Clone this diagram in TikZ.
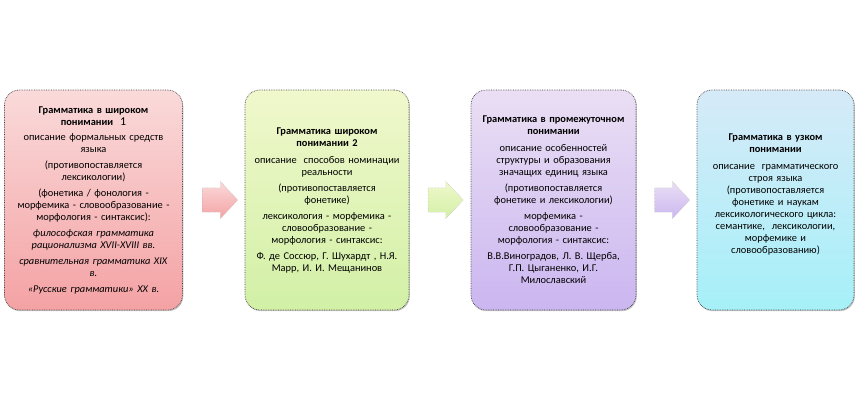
\documentclass[tikz,border=0pt]{standalone}
\usepackage{fontspec}
\setmainfont{Carlito}
\usepackage{tikz}
\usetikzlibrary{shapes.arrows,shadows}
\definecolor{pinktop}{HTML}{FADADA}
\definecolor{pinkbot}{HTML}{F4A2A4}
\definecolor{greentop}{HTML}{F0F8CC}
\definecolor{greenbot}{HTML}{D2F0A6}
\definecolor{violettop}{HTML}{EADFF4}
\definecolor{violetbot}{HTML}{CBB6F0}
\definecolor{bluetop}{HTML}{D6EAF8}
\definecolor{bluebot}{HTML}{A6F0F8}
\tikzset{
  gramcard/.style={draw=black!75, densely dotted, line width=0.7pt, rounded corners=15pt, align=center, minimum height=220pt, inner sep=4pt, font=\fontsize{10.4}{12}\selectfont, drop shadow={shadow xshift=0.8pt, shadow yshift=-1.2pt, opacity=0.45}},
  gramarrow/.style={single arrow, draw=black!30, densely dotted, line width=0.4pt, minimum height=35pt, inner xsep=0pt, inner ysep=12pt, single arrow head extend=6.5pt, single arrow tip angle=94},
  pinkfill/.style={top color=pinktop, bottom color=pinkbot},
  greenfill/.style={top color=greentop, bottom color=greenbot},
  violetfill/.style={top color=violettop, bottom color=violetbot},
  bluefill/.style={top color=bluetop, bottom color=bluebot}
}
\begin{document}
\begin{tikzpicture}[x=1pt,y=1pt]
\useasboundingbox[fill=white] (0,0) rectangle (865,400);
\node[gramcard, pinkfill, minimum width=177pt, text width=170pt] (wide) at (93.5,200) {\textbf{Грамматика в широком}\\\textbf{понимании}~~{\large 1}\\[3pt]
описание формальных средств\\языка\\[4pt]
(противопоставляется\\лексикологии)\\[4pt]
(фонетика / фонология -\\морфемика - словообразование -\\морфология - синтаксис):\\[4pt]
\textit{философская грамматика}\\\textit{рационализма XVII-XVIII вв.}\\[4pt]
\textit{сравнительная грамматика XIX}\\\textit{в.}\\[4pt]
\textit{«Русские грамматики» XX в.}};
\node[gramcard, greenfill, minimum width=162pt, text width=156pt] (wide2) at (327,200) {\textbf{Грамматика широком}\\\textbf{понимании 2}\\[5pt]
описание\ \ способов номинации\\реальности\\[4pt]
(противопоставляется\\фонетике)\\[4pt]
лексикология - морфемика -\\словообразование -\\морфология - синтаксис:\\[4pt]
Ф. де Соссюр, Г. Шухардт , Н.Я.\\Марр, И. И. Мещанинов};
\node[gramcard, violetfill, minimum width=163pt, text width=157pt] (middle) at (553.5,200) {\textbf{Грамматика в промежуточном}\\\textbf{понимании}\\[5pt]
описание особенностей\\структуры и образования\\значащих единиц языка\\[4pt]
(противопоставляется\\фонетике и лексикологии)\\[4pt]
морфемика -\\словообразование -\\морфология - синтаксис:\\[4pt]
В.В.Виноградов, Л. В. Щерба,\\Г.П. Цыганенко, И.Г.\\Милославский};
\node[gramcard, bluefill, minimum width=155pt, text width=149pt] (narrow) at (775.5,200) {\textbf{Грамматика в узком}\\\textbf{понимании}\\[5pt]
описание\ \ грамматического\\строя языка\\
(противопоставляется\\фонетике и наукам\\лексикологического цикла:\\семантике,\ \ лексикологии,\\морфемике и\\словообразованию)\\\mbox{}};
\node[gramarrow, pinkfill] (step1) at (214.5,200) {};
\node[gramarrow, greenfill] (step2) at (440,200) {};
\node[gramarrow, violetfill] (step3) at (666.5,200) {};
\end{tikzpicture}
\end{document}
